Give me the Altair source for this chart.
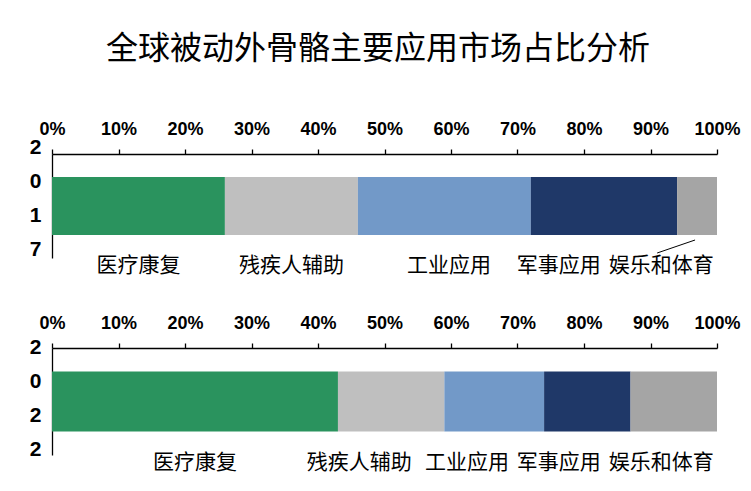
import altair as alt
import pandas as pd

categories = ["医疗康复", "残疾人辅助", "工业应用", "军事应用", "娱乐和体育"]
colors = ["#2A935E", "#BFBFBF", "#7299C8", "#1F3868", "#A5A5A5"]
share_2017 = [26, 20, 26, 22, 6]
share_2022 = [43, 16, 15, 13, 13]
# label anchor positions (in percent units along the axis)
label_pos_2017 = [13, 36, 59.7, 76.2, 91.6]
label_pos_2022 = [21.5, 46.2, 62.4, 76.2, 91.6]
title_text = "全球被动外骨骼主要应用市场占比分析"

W = 665
H1, H2 = 104, 107
CJK = "Noto Sans CJK SC"
LAT = "Liberation Sans"


def panel(year, shares, label_pos, h, first=False):
    df = pd.DataFrame({
        "year": [year] * len(categories),
        "cat": categories,
        "value": shares,
        "order": list(range(len(categories))),
        "lx": label_pos,
    })
    base = alt.Chart(df)
    bars = base.mark_bar(size=58 if h == H1 else 60).encode(
        x=alt.X("value:Q", stack="zero",
                scale=alt.Scale(domain=[0, 100], nice=False),
                axis=alt.Axis(orient="top", title=None, values=list(range(0, 101, 10)),
                              labelExpr="datum.value + '%'", grid=False, labelFlush=False,
                              labelOverlap=False,
                              domainColor="black", domainWidth=1.3, tickColor="black",
                              tickWidth=1.3, tickSize=5, labelPadding=11,
                              labelFont=LAT, labelFontSize=18, labelFontWeight="bold",
                              labelColor="black")),
        y=alt.Y("year:N", title=None,
                axis=alt.Axis(ticks=False, labelExpr="split(datum.label, '')",
                              labelFont=LAT, labelFontSize=21, labelFontWeight="bold",
                              labelLineHeight=34, labelPadding=11,
                              labelOffset=-58 if h == H1 else -54,
                              labelColor="black", domainColor="black", domainWidth=1.3,
                              labelAngle=0)),
        color=alt.Color("cat:N", scale=alt.Scale(domain=categories, range=colors), legend=None),
        order=alt.Order("order:Q"),
    )
    labels = base.mark_text(font=CJK, fontSize=21, color="black", baseline="middle").encode(
        x=alt.X("lx:Q"),
        y=alt.value(h + 8),
        text="cat:N",
    )
    layers = [bars, labels]
    if first:
        bg = alt.Chart(pd.DataFrame({"a": [0]})).mark_rect(opacity=0).encode(
            x=alt.value(-44), x2=alt.value(W + 26), y=alt.value(-146), y2=alt.value(329))
        title = alt.Chart(pd.DataFrame({"t": [title_text]})).mark_text(
            font=CJK, fontSize=32, color="black", baseline="middle").encode(
            x=alt.value(326), y=alt.value(-105), text="t:N")
        lead = alt.Chart(pd.DataFrame({"x1": [91.0], "x2": [96.7]})).mark_rule(
            color="black", strokeWidth=1).encode(
            x="x1:Q", x2="x2:Q", y=alt.value(99), y2=alt.value(86))
        layers = [bg, title] + layers + [lead]
    return alt.layer(*layers).properties(width=W, height=h)


p1 = panel("2017", share_2017, label_pos_2017, H1, first=True)
p2 = panel("2022", share_2022, label_pos_2022, H2)

chart = alt.vconcat(p1, p2, spacing=90, bounds="flush").properties(
    padding=0, background="white"
).resolve_scale(x="independent", y="independent", color="shared").configure_view(stroke=None)

chart.save("out.html", embed_options={"renderer": "svg", "actions": False})
